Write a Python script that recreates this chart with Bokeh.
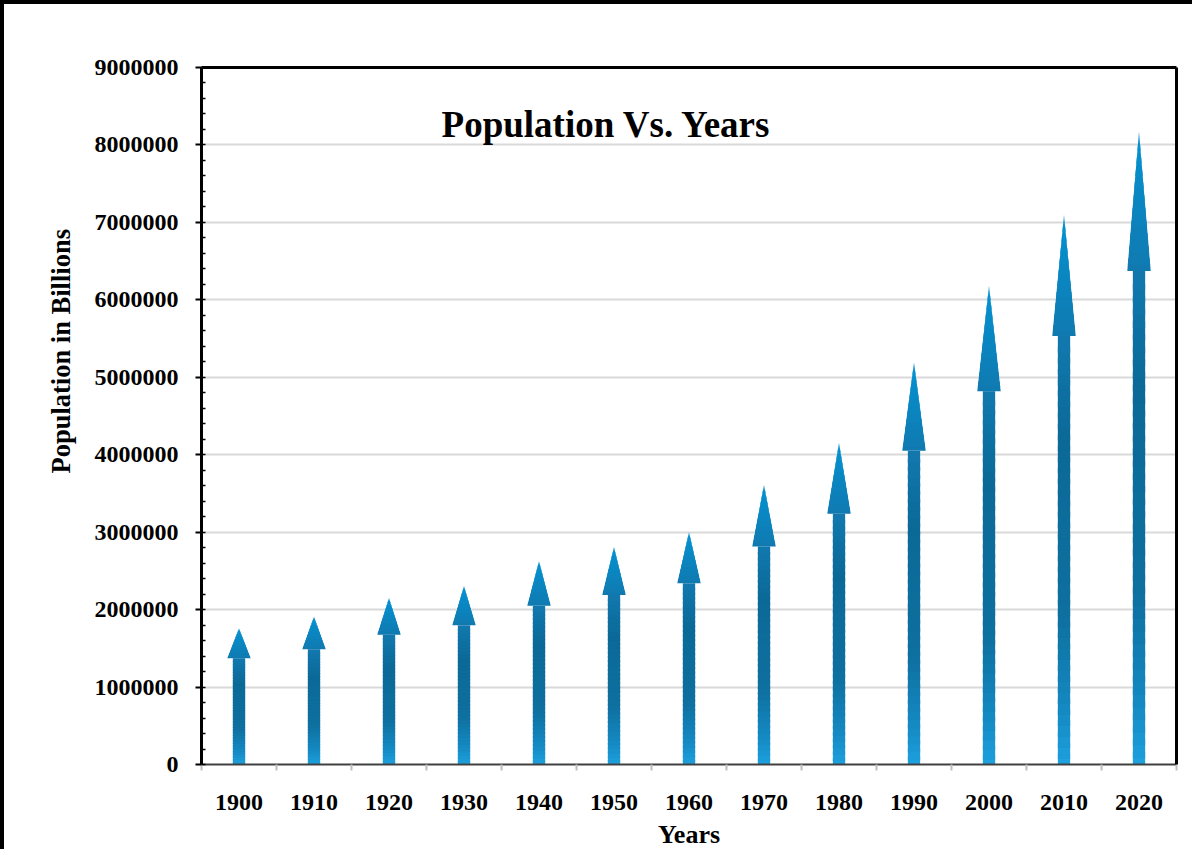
from bokeh.plotting import figure
from bokeh.models import (FixedTicker, SingleIntervalTicker, NumeralTickFormatter,
                          LinearAxis, Label, Range1d, ColumnDataSource, Title)
from bokeh.embed import file_html
from bokeh.resources import INLINE

# ---------------- data ----------------
years = ["1900", "1910", "1920", "1930", "1940", "1950", "1960",
         "1970", "1980", "1990", "2000", "2010", "2020"]
population = [1757000, 1908000, 2149000, 2304000, 2626000, 2807000, 3000000,
              3610000, 4152000, 5192000, 6180000, 7095000, 8170000]
y_max = 9000000
y_step = 1000000
chart_title = "Population Vs. Years"
x_title = "Years"
y_title = "Population in Billions"

FONT = "Liberation Serif"

# ---------------- arrow geometry (from values, via data scales) ----------------
SHAFT_HALF = 0.082
HEAD_HALF = 0.156
N_BANDS = 50
HEAD_START = 39  # band index where the head begins (0.78 of value)

stops = [(0.00, (0x1e, 0xa4, 0xe2)),
         (0.10, (0x15, 0x8a, 0xc4)),
         (0.28, (0x0e, 0x70, 0x9f)),
         (0.60, (0x0b, 0x69, 0x97)),
         (0.78, (0x11, 0x78, 0xae)),
         (1.00, (0x04, 0x92, 0xd2))]


def grad(t):
    for (t0, c0), (t1, c1) in zip(stops[:-1], stops[1:]):
        if t0 <= t <= t1:
            f = (t - t0) / (t1 - t0) if t1 > t0 else 0
            c = [round(a + (b - a) * f) for a, b in zip(c0, c1)]
            return "#%02x%02x%02x" % tuple(c)
    return "#%02x%02x%02x" % stops[-1][1]


xs, ys, cols = [], [], []
for i, v in enumerate(population):
    cx = i + 0.5
    head_base = v * HEAD_START / N_BANDS
    head_len = v - head_base
    band = v / N_BANDS
    for k in range(N_BANDS):
        y0 = band * k
        y1 = band * (k + 1)
        if k not in (0, HEAD_START):
            y0 -= band * 0.5  # overlap previous band to hide seams
        c = grad((k + 0.5) / N_BANDS)
        if k < HEAD_START:
            xs.append([cx - SHAFT_HALF, cx + SHAFT_HALF, cx + SHAFT_HALF, cx - SHAFT_HALF])
            ys.append([y0, y0, y1, y1])
        else:
            w0 = HEAD_HALF * (v - y0) / head_len
            w1 = HEAD_HALF * (v - y1) / head_len
            xs.append([cx - w0, cx + w0, cx + w1, cx - w1])
            ys.append([y0, y0, y1, y1])
        cols.append(c)

src = ColumnDataSource(dict(xs=xs, ys=ys, c=cols))

# ---------------- figure ----------------
W, H = 1192, 849
p = figure(width=W, height=H, output_backend="svg", toolbar_location=None,
           x_range=Range1d(0, len(years)), y_range=Range1d(0, y_max),
           min_border_left=197, min_border_right=20, min_border_top=63,
           min_border_bottom=89)
p.styles = {"border-left": "4px solid black", "border-top": "4px solid black"}
p.outline_line_color = None
p.background_fill_color = "white"
p.border_fill_color = "white"

p.patches("xs", "ys", source=src, fill_color="c", line_color=None)

# x axis
xa = p.xaxis[0]
xa.ticker = FixedTicker(ticks=[i + 0.5 for i in range(len(years))],
                        minor_ticks=list(range(len(years) + 1)))
xa.major_label_overrides = {i + 0.5: y for i, y in enumerate(years)}
xa.major_tick_line_color = None
xa.major_tick_out = 0
xa.major_tick_in = 0
xa.minor_tick_line_color = "#bfbfbf"
xa.minor_tick_line_width = 2
xa.minor_tick_out = 6
xa.minor_tick_in = 0
xa.axis_line_color = "#404040"
xa.axis_line_width = 2
xa.major_label_text_font = FONT
xa.major_label_text_font_style = "bold"
xa.major_label_text_font_size = "24px"
xa.major_label_text_color = "black"
xa.major_label_standoff = 24

# x axis title
p.add_layout(Title(text=x_title, align="center", vertical_align="bottom", standoff=10,
                   text_font=FONT, text_font_style="bold",
                   text_font_size="26px", text_color="black"), "below")

# y axis
ya = p.yaxis[0]
ya.ticker = SingleIntervalTicker(interval=y_step, num_minor_ticks=5)
ya.formatter = NumeralTickFormatter(format="0")
ya.axis_line_color = "black"
ya.axis_line_width = 3
ya.major_tick_line_color = "black"
ya.major_tick_line_width = 2
ya.major_tick_out = 6
ya.major_tick_in = 0
ya.minor_tick_line_color = "black"
ya.minor_tick_line_width = 1.5
ya.minor_tick_out = 0
ya.minor_tick_in = 4
ya.major_label_text_font = FONT
ya.major_label_text_font_style = "bold"
ya.major_label_text_font_size = "24px"
ya.major_label_text_color = "black"
ya.major_label_standoff = 17

# y axis title, shifted up as in the reference
p.add_layout(Title(text=y_title, align="left", offset=291, standoff=32,
                   text_font=FONT, text_font_style="bold", text_font_size="26.5px",
                   text_color="black"), "left")

# frame top and right borders
for loc in ("above", "right"):
    ax = LinearAxis(ticker=FixedTicker(ticks=[]))
    ax.axis_line_color = "black"
    ax.axis_line_width = 3
    ax.major_tick_line_color = None
    ax.minor_tick_line_color = None
    p.add_layout(ax, loc)

p.xgrid.grid_line_color = None
p.ygrid.grid_line_color = "#d9d9d9"
p.ygrid.grid_line_width = 2
p.ygrid.ticker = SingleIntervalTicker(interval=y_step)

p.add_layout(Label(x=5.4, y=8260000, text=chart_title, text_align="center",
                   text_baseline="alphabetic", text_font=FONT, text_font_style="bold",
                   text_font_size="37px", text_color="black"))

open("out.html", "w").write(file_html(p, INLINE))
